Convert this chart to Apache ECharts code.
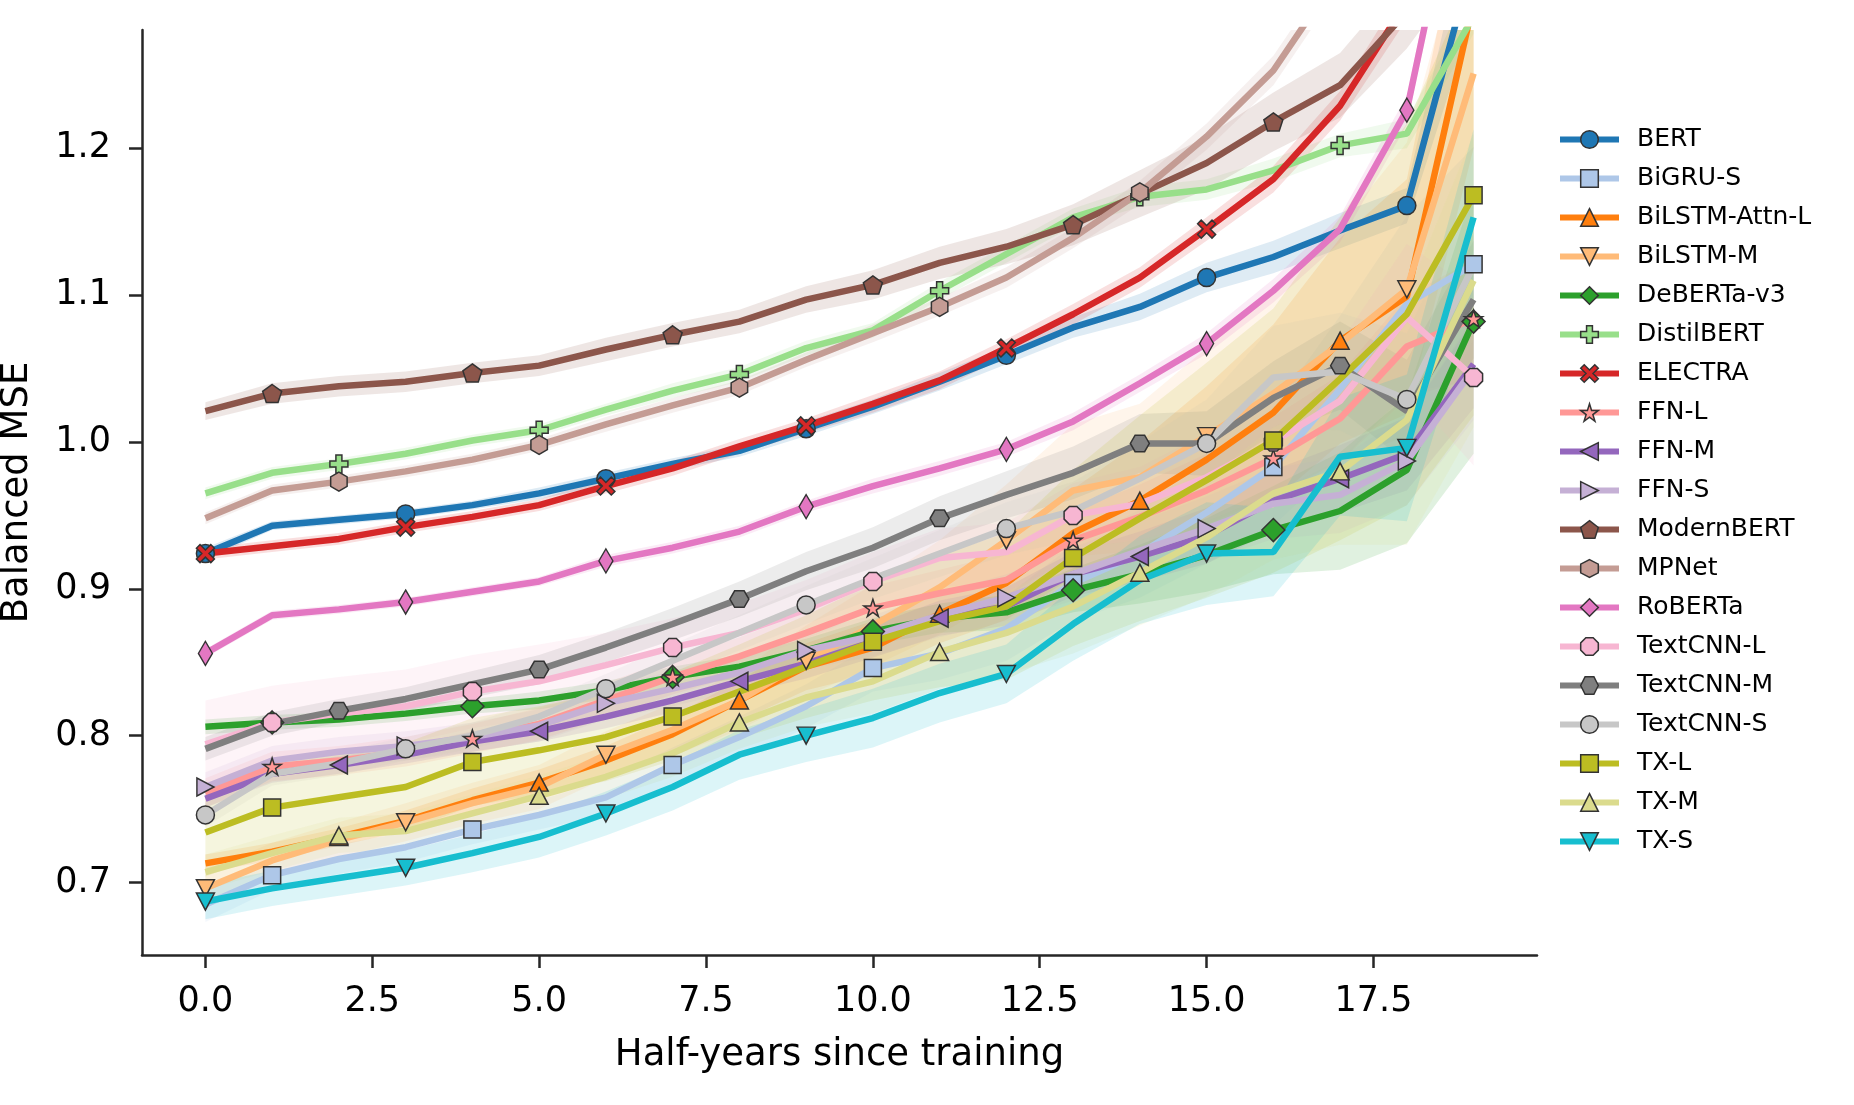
<!DOCTYPE html>
<html>
<head>
<meta charset="utf-8">
<title>Balanced MSE over time</title>
<script src="https://cdn.jsdelivr.net/npm/echarts@6/dist/echarts.min.js"></script>
<style>
    html, body { margin: 0; padding: 0; background: #fff; }
    #chart { width: 1854px; height: 1105px; }
</style>
</head>
<body>
<div id="chart"></div>
<script>
// x values
var halfYears = [0, 1, 2, 3, 4, 5, 6, 7, 8, 9, 10, 11, 12, 13, 14, 15, 16, 17, 18, 19];
var xTicks = [0, 2.5, 5, 7.5, 10, 12.5, 15, 17.5];
var yTicks = [0.7, 0.8, 0.9, 1.0, 1.1, 1.2];

var modelNames = ['BERT', 'BiGRU-S', 'BiLSTM-Attn-L', 'BiLSTM-M', 'DeBERTa-v3', 'DistilBERT', 'ELECTRA',
    'FFN-L', 'FFN-M', 'FFN-S', 'ModernBERT', 'MPNet', 'RoBERTa', 'TextCNN-L', 'TextCNN-M', 'TextCNN-S',
    'TX-L', 'TX-M', 'TX-S'];

// mean balanced MSE per half-year
var bert = [0.924, 0.943, 0.947, 0.951, 0.957, 0.965, 0.975, 0.985, 0.994, 1.009, 1.024, 1.041, 1.059, 1.078, 1.092, 1.112, 1.126, 1.144, 1.161, 1.33];
var bigruS = [0.685, 0.705, 0.716, 0.724, 0.736, 0.746, 0.758, 0.780, 0.799, 0.820, 0.846, 0.856, 0.873, 0.904, 0.924, 0.952, 0.983, 1.036, 1.094, 1.121];
var bilstmAttnL = [0.713, 0.721, 0.731, 0.742, 0.756, 0.768, 0.783, 0.801, 0.824, 0.847, 0.860, 0.883, 0.904, 0.938, 0.960, 0.988, 1.020, 1.069, 1.099, 1.30];
var bilstmM = [0.696, 0.715, 0.729, 0.741, 0.754, 0.765, 0.787, 0.804, 0.824, 0.851, 0.875, 0.901, 0.933, 0.967, 0.976, 1.004, 1.033, 1.067, 1.104, 1.251];
var debertaV3 = [0.806, 0.809, 0.811, 0.815, 0.820, 0.824, 0.831, 0.840, 0.847, 0.858, 0.871, 0.880, 0.884, 0.899, 0.910, 0.923, 0.940, 0.953, 0.981, 1.082];
var distilbert = [0.965, 0.979, 0.985, 0.992, 1.001, 1.008, 1.022, 1.035, 1.046, 1.064, 1.076, 1.103, 1.128, 1.153, 1.167, 1.172, 1.185, 1.202, 1.210, 1.29];
var electra = [0.924, 0.929, 0.934, 0.942, 0.949, 0.957, 0.970, 0.982, 0.997, 1.011, 1.026, 1.042, 1.064, 1.087, 1.112, 1.145, 1.179, 1.229, 1.30, 1.42];
var ffnL = [0.761, 0.779, 0.783, 0.789, 0.798, 0.808, 0.824, 0.840, 0.854, 0.870, 0.887, 0.897, 0.906, 0.933, 0.949, 0.967, 0.989, 1.016, 1.065, 1.084];
var ffnM = [0.757, 0.774, 0.780, 0.787, 0.796, 0.803, 0.813, 0.824, 0.837, 0.849, 0.864, 0.880, 0.888, 0.910, 0.922, 0.936, 0.960, 0.975, 0.992, 1.053];
var ffnS = [0.765, 0.783, 0.789, 0.793, 0.799, 0.807, 0.822, 0.832, 0.843, 0.858, 0.868, 0.882, 0.894, 0.910, 0.926, 0.941, 0.958, 0.964, 0.987, 1.050];
var modernbert = [1.021, 1.033, 1.038, 1.041, 1.047, 1.052, 1.063, 1.073, 1.082, 1.097, 1.107, 1.122, 1.133, 1.148, 1.169, 1.190, 1.218, 1.243, 1.293, 1.36];
var mpnet = [0.948, 0.967, 0.973, 0.980, 0.988, 0.998, 1.012, 1.025, 1.037, 1.056, 1.074, 1.092, 1.112, 1.139, 1.170, 1.208, 1.253, 1.32, 1.40, 1.48];
var roberta = [0.856, 0.882, 0.886, 0.891, 0.898, 0.905, 0.919, 0.928, 0.939, 0.956, 0.970, 0.982, 0.995, 1.014, 1.040, 1.067, 1.103, 1.145, 1.226, 1.44];
var textcnnL = [0.794, 0.809, 0.815, 0.820, 0.830, 0.837, 0.848, 0.860, 0.870, 0.886, 0.905, 0.921, 0.925, 0.950, 0.958, 0.976, 1.000, 1.028, 1.085, 1.044];
var textcnnM = [0.791, 0.808, 0.817, 0.825, 0.835, 0.845, 0.860, 0.876, 0.893, 0.912, 0.928, 0.948, 0.964, 0.979, 0.999, 0.999, 1.030, 1.052, 1.021, 1.097];
var textcnnS = [0.746, 0.774, 0.781, 0.791, 0.800, 0.813, 0.832, 0.851, 0.870, 0.889, 0.907, 0.924, 0.941, 0.953, 0.975, 0.999, 1.044, 1.048, 1.029, 1.12];
var txL = [0.734, 0.751, 0.758, 0.765, 0.782, 0.790, 0.799, 0.813, 0.830, 0.847, 0.864, 0.878, 0.888, 0.921, 0.948, 0.974, 1.001, 1.043, 1.087, 1.168];
var txM = [0.707, 0.720, 0.732, 0.735, 0.747, 0.759, 0.772, 0.788, 0.809, 0.826, 0.837, 0.857, 0.870, 0.888, 0.911, 0.935, 0.965, 0.980, 1.015, 1.110];
var txS = [0.687, 0.696, 0.703, 0.710, 0.720, 0.731, 0.747, 0.765, 0.787, 0.800, 0.812, 0.829, 0.842, 0.876, 0.906, 0.924, 0.925, 0.990, 0.996, 1.153];

// half width of the shaded band per half-year
var bertBand = [0.004, 0.003, 0.003, 0.003, 0.003, 0.004, 0.004, 0.004, 0.004, 0.005, 0.005, 0.006, 0.006, 0.007, 0.009, 0.010, 0.011, 0.012, 0.012, 0.04];
var bigruSBand = [0.012, 0.010, 0.010, 0.010, 0.010, 0.010, 0.012, 0.012, 0.014, 0.015, 0.016, 0.018, 0.022, 0.026, 0.030, 0.035, 0.040, 0.050, 0.060, 0.080];
var bilstmAttnLBand = [0.006, 0.006, 0.006, 0.007, 0.008, 0.009, 0.010, 0.012, 0.014, 0.016, 0.018, 0.020, 0.025, 0.030, 0.040, 0.050, 0.060, 0.070, 0.080, 0.10];
var bilstmMBand = [0.012, 0.012, 0.012, 0.013, 0.014, 0.015, 0.016, 0.018, 0.020, 0.024, 0.028, 0.032, 0.038, 0.045, 0.050, 0.060, 0.070, 0.080, 0.10, 0.12];
var debertaV3Band = [0.005, 0.005, 0.005, 0.005, 0.005, 0.006, 0.006, 0.007, 0.008, 0.008, 0.009, 0.010, 0.012, 0.015, 0.020, 0.025, 0.030, 0.040, 0.050, 0.09];
var distilbertBand = [0.004, 0.004, 0.004, 0.004, 0.004, 0.004, 0.004, 0.005, 0.005, 0.005, 0.005, 0.006, 0.006, 0.006, 0.007, 0.007, 0.008, 0.008, 0.010, 0.012];
var electraBand = [0.004, 0.004, 0.004, 0.004, 0.004, 0.004, 0.005, 0.005, 0.005, 0.005, 0.006, 0.006, 0.006, 0.007, 0.007, 0.008, 0.009, 0.010, 0.012, 0.015];
var ffnLBand = [0.010, 0.010, 0.010, 0.010, 0.010, 0.011, 0.012, 0.012, 0.013, 0.014, 0.015, 0.016, 0.018, 0.020, 0.022, 0.025, 0.028, 0.030, 0.035, 0.04];
var ffnMBand = [0.006, 0.006, 0.006, 0.006, 0.007, 0.007, 0.008, 0.008, 0.009, 0.010, 0.011, 0.012, 0.013, 0.015, 0.017, 0.019, 0.021, 0.023, 0.025, 0.03];
var ffnSBand = [0.010, 0.010, 0.010, 0.010, 0.010, 0.011, 0.011, 0.012, 0.012, 0.013, 0.014, 0.015, 0.016, 0.018, 0.020, 0.022, 0.024, 0.026, 0.030, 0.035];
var modernbertBand = [0.006, 0.007, 0.007, 0.007, 0.007, 0.007, 0.008, 0.008, 0.008, 0.009, 0.010, 0.011, 0.012, 0.014, 0.016, 0.018, 0.020, 0.022, 0.025, 0.03];
var mpnetBand = [0.004, 0.004, 0.004, 0.004, 0.004, 0.004, 0.005, 0.005, 0.005, 0.005, 0.006, 0.006, 0.007, 0.007, 0.008, 0.009, 0.010, 0.010, 0.012, 0.015];
var robertaBand = [0.003, 0.003, 0.003, 0.003, 0.003, 0.003, 0.004, 0.004, 0.004, 0.004, 0.005, 0.005, 0.005, 0.006, 0.006, 0.007, 0.008, 0.009, 0.010, 0.012];
var textcnnLBand = [0.030, 0.025, 0.025, 0.025, 0.025, 0.025, 0.022, 0.020, 0.020, 0.020, 0.020, 0.020, 0.020, 0.022, 0.025, 0.030, 0.035, 0.040, 0.050, 0.06];
var textcnnMBand = [0.008, 0.008, 0.008, 0.008, 0.009, 0.010, 0.010, 0.011, 0.012, 0.013, 0.014, 0.015, 0.016, 0.018, 0.020, 0.022, 0.025, 0.030, 0.035, 0.04];
var textcnnSBand = [0.008, 0.008, 0.008, 0.008, 0.009, 0.010, 0.010, 0.011, 0.012, 0.013, 0.014, 0.016, 0.018, 0.020, 0.025, 0.030, 0.035, 0.040, 0.045, 0.05];
var txLBand = [0.030, 0.030, 0.030, 0.030, 0.030, 0.030, 0.030, 0.030, 0.032, 0.035, 0.040, 0.045, 0.050, 0.060, 0.070, 0.080, 0.090, 0.110, 0.130, 0.15];
var txMBand = [0.012, 0.012, 0.012, 0.012, 0.013, 0.014, 0.015, 0.016, 0.018, 0.020, 0.022, 0.025, 0.028, 0.032, 0.036, 0.040, 0.045, 0.050, 0.085, 0.10];
var txSBand = [0.012, 0.012, 0.012, 0.012, 0.013, 0.014, 0.015, 0.016, 0.017, 0.018, 0.020, 0.020, 0.020, 0.025, 0.030, 0.035, 0.030, 0.040, 0.050, 0.06];

var meanList = [bert, bigruS, bilstmAttnL, bilstmM, debertaV3, distilbert, electra, ffnL, ffnM, ffnS,
    modernbert, mpnet, roberta, textcnnL, textcnnM, textcnnS, txL, txM, txS];
var bandList = [bertBand, bigruSBand, bilstmAttnLBand, bilstmMBand, debertaV3Band, distilbertBand, electraBand,
    ffnLBand, ffnMBand, ffnSBand, modernbertBand, mpnetBand, robertaBand, textcnnLBand, textcnnMBand,
    textcnnSBand, txLBand, txMBand, txSBand];

// tab20 colours
var colors = ['#1f77b4', '#aec7e8', '#ff7f0e', '#ffbb78', '#2ca02c', '#98df8a', '#d62728', '#ff9896',
    '#9467bd', '#c5b0d5', '#8c564b', '#c49c94', '#e377c2', '#f7b6d2', '#7f7f7f', '#c7c7c7', '#bcbd22',
    '#dbdb8d', '#17becf'];

// marker shapes (matplotlib style)
var shapes = {
    pentagon: 'path://M0,-1L0.951,-0.309L0.588,0.809L-0.588,0.809L-0.951,-0.309Z',
    hexPoint: 'path://M0,-1L0.866,-0.5L0.866,0.5L0,1L-0.866,0.5L-0.866,-0.5Z',
    hexFlat: 'path://M1,0L0.5,0.866L-0.5,0.866L-1,0L-0.5,-0.866L0.5,-0.866Z',
    octagon: 'path://M0.924,0.383L0.383,0.924L-0.383,0.924L-0.924,0.383L-0.924,-0.383L-0.383,-0.924L0.383,-0.924L0.924,-0.383Z',
    star: 'path://M0,-1L0.2245,-0.309L0.951,-0.309L0.363,0.118L0.588,0.809L0,0.382L-0.588,0.809L-0.363,0.118L-0.951,-0.309L-0.2245,-0.309Z',
    plus: 'path://M-0.333,-1L0.333,-1L0.333,-0.333L1,-0.333L1,0.333L0.333,0.333L0.333,1L-0.333,1L-0.333,0.333L-1,0.333L-1,-0.333L-0.333,-0.333Z',
    cross: 'path://M-1,-0.6L-0.6,-1L0,-0.4L0.6,-1L1,-0.6L0.4,0L1,0.6L0.6,1L0,0.4L-0.6,1L-1,0.6L-0.4,0Z'
};
var markers = [
    { symbol: 'circle', size: 18, rotate: 0 },
    { symbol: 'rect', size: 17, rotate: 0 },
    { symbol: 'triangle', size: [18, 17], rotate: 0 },
    { symbol: 'triangle', size: [18, 17], rotate: 180 },
    { symbol: 'diamond', size: 23, rotate: 0 },
    { symbol: shapes.plus, size: 18, rotate: 0 },
    { symbol: shapes.cross, size: 18, rotate: 0 },
    { symbol: shapes.star, size: 18, rotate: 0 },
    { symbol: 'triangle', size: [18, 17], rotate: 90 },
    { symbol: 'triangle', size: [18, 17], rotate: -90 },
    { symbol: shapes.pentagon, size: 19, rotate: 0 },
    { symbol: shapes.hexPoint, size: 19, rotate: 0 },
    { symbol: 'diamond', size: [14, 24], rotate: 0 },
    { symbol: shapes.octagon, size: 18, rotate: 0 },
    { symbol: shapes.hexFlat, size: 19, rotate: 0 },
    { symbol: 'circle', size: 18, rotate: 0 },
    { symbol: 'rect', size: 17, rotate: 0 },
    { symbol: 'triangle', size: [18, 17], rotate: 0 },
    { symbol: 'triangle', size: [18, 17], rotate: 180 }
];

var fontName = 'DejaVu Sans';

function toPoints(values) {
    return halfYears.map(function (x, i) { return [x, values[i]]; });
}

/**
 * shaded band (mean +- width) as one polygon
 */
function makeBand(k) {
    var mean = meanList[k];
    var band = bandList[k];
    return {
        name: modelNames[k] + ' band',
        type: 'custom',
        silent: true,
        clip: true,
        data: toPoints(mean),
        renderItem: function (params, api) {
            if (params.dataIndex !== 0) return null;
            var pts = [];
            for (var i = 0; i < halfYears.length; i++) {
                pts.push(api.coord([halfYears[i], mean[i] + band[i]]));
            }
            for (var j = halfYears.length - 1; j >= 0; j--) {
                pts.push(api.coord([halfYears[j], mean[j] - band[j]]));
            }
            return {
                type: 'polygon',
                shape: { points: pts },
                style: { fill: colors[k], opacity: 0.15 }
            };
        }
    };
}

/**
 * mean line, a marker on every third point
 */
function makeLine(k) {
    var offset = k % 3;
    var mk = markers[k];
    return {
        name: modelNames[k],
        type: 'line',
        data: toPoints(meanList[k]),
        color: colors[k],
        symbol: mk.symbol,
        symbolRotate: mk.rotate,
        symbolKeepAspect: true,
        symbolSize: function (val, params) {
            return params.dataIndex % 3 === offset ? mk.size : 0;
        },
        showSymbol: true,
        lineStyle: { width: 6.5, color: colors[k] },
        itemStyle: { color: colors[k], borderColor: '#333', borderWidth: 1.5 },
        emphasis: { disabled: true }
    };
}

var bandSeries = [];
var lineSeries = [];
modelNames.forEach(function (name, k) {
    bandSeries.push(makeBand(k));
    lineSeries.push(makeLine(k));
});

var myChart = echarts.init(document.getElementById('chart'));
var option = {
    animation: false,
    backgroundColor: '#fff',
    grid: { left: 142, right: 317, top: 30, bottom: 150, outerBoundsMode: 'none' },
    legend: {
        data: modelNames,
        orient: 'vertical',
        left: 1557,
        top: 127,
        padding: 0,
        itemWidth: 59,
        itemHeight: 22,
        itemGap: 14,
        selectedMode: false,
        lineStyle: { width: 6 },
        itemStyle: { borderColor: '#333', borderWidth: 1.5 },
        textStyle: { fontFamily: fontName, fontSize: 25, lineHeight: 25, color: '#000', padding: [0, 0, 0, 13] }
    },
    xAxis: {
        type: 'value',
        min: -0.95,
        max: 19.95,
        name: 'Half-years since training',
        nameLocation: 'middle',
        nameGap: 82,
        nameTextStyle: { fontFamily: fontName, fontSize: 37, color: '#000' },
        axisLine: { show: true, onZero: false, lineStyle: { color: '#262626', width: 2.5 } },
        axisTick: { show: true, length: 13, lineStyle: { color: '#262626', width: 2.5 }, customValues: xTicks },
        axisLabel: {
            customValues: xTicks,
            margin: 29,
            fontFamily: fontName,
            fontSize: 35,
            color: '#000',
            formatter: function (v) { return v.toFixed(1); }
        },
        splitLine: { show: false }
    },
    yAxis: {
        type: 'value',
        min: 0.6506,
        max: 1.2806,
        name: 'Balanced MSE',
        nameLocation: 'middle',
        nameGap: 106,
        nameTextStyle: { fontFamily: fontName, fontSize: 37, color: '#000' },
        axisLine: { show: true, onZero: false, lineStyle: { color: '#262626', width: 2.5 } },
        axisTick: { show: true, length: 13, lineStyle: { color: '#262626', width: 2.5 }, customValues: yTicks },
        axisLabel: {
            customValues: yTicks,
            margin: 31,
            fontFamily: fontName,
            fontSize: 35,
            color: '#000',
            formatter: function (v) { return v.toFixed(1); }
        },
        splitLine: { show: false }
    },
    series: bandSeries.concat(lineSeries)
};
myChart.setOption(option, true);
</script>
</body>
</html>
